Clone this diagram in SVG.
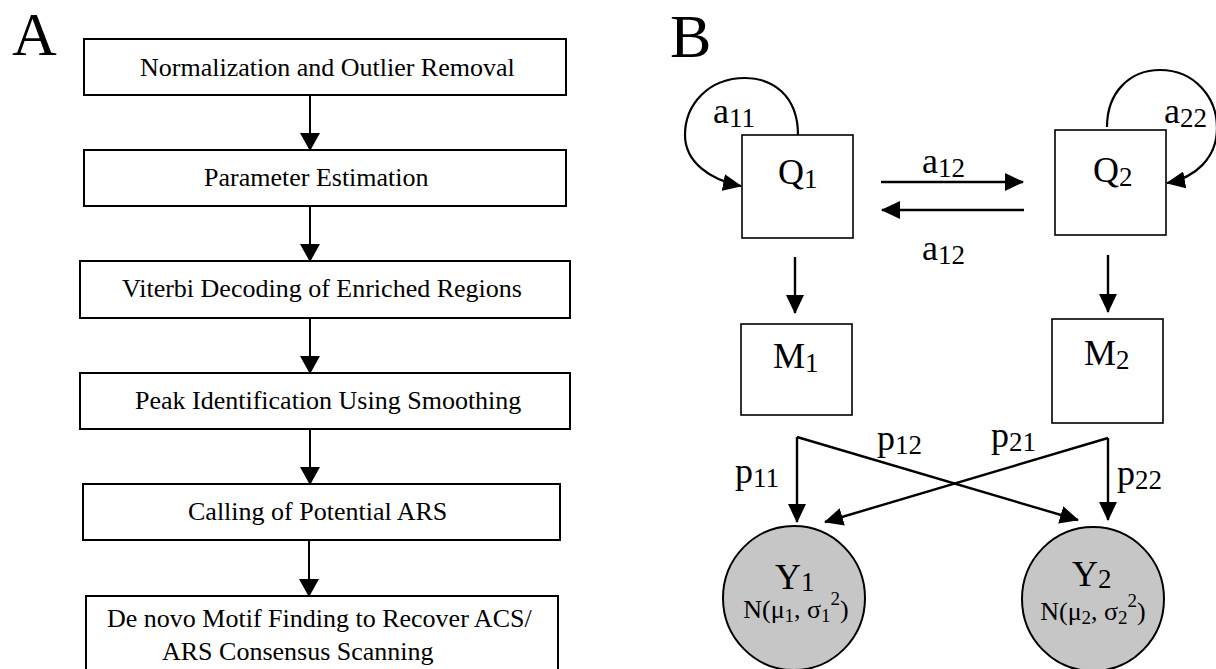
<svg xmlns="http://www.w3.org/2000/svg" width="1216" height="669" viewBox="0 0 1216 669">
<style>
text{font-family:"Liberation Serif","Times New Roman",serif;fill:#000}
.lbl{font-size:62px}
.box{fill:#fff;stroke:#000;stroke-width:2}
.bt{font-size:26px}
.sq{fill:#fff;stroke:#000;stroke-width:1.6}
.cir{fill:#c6c6c6;stroke:#000;stroke-width:2}
.m{font-size:36px}
.s{font-size:27px}
.yn{font-size:26px}
.ys{font-size:19px}
.ca{stroke:#000;stroke-width:2;fill:none;marker-end:url(#ahA)}
.cb{stroke:#000;stroke-width:2.4;fill:none;marker-end:url(#ahB)}
.cl{stroke:#000;stroke-width:2.2;fill:none;marker-end:url(#ahL)}
</style>
<defs>
<marker id="ahA" viewBox="0 0 18 20" refX="17" refY="10" markerWidth="18" markerHeight="20" orient="auto" markerUnits="userSpaceOnUse"><path d="M0,0 L18,10 L0,20 z" fill="#000"/></marker>
<marker id="ahB" viewBox="0 0 19 18" refX="18" refY="9" markerWidth="19" markerHeight="18" orient="auto" markerUnits="userSpaceOnUse"><path d="M0,0 L19,9 L0,18 z" fill="#000"/></marker>
<marker id="ahL" viewBox="0 0 19 17" refX="18" refY="8.5" markerWidth="19" markerHeight="17" orient="auto" markerUnits="userSpaceOnUse"><path d="M0,0 L19,8.5 L0,17 z" fill="#000"/></marker>
</defs>

<text class="lbl" x="12" y="55">A</text>
<text class="lbl" x="670" y="57">B</text>

<g id="a1"><rect class="box" x="84" y="39" width="482" height="56"/><text class="bt" x="140" y="76">Normalization and Outlier Removal</text></g>
<g id="a2"><rect class="box" x="84" y="150" width="482" height="56"/><text class="bt" x="204" y="186">Parameter Estimation</text></g>
<g id="a3"><rect class="box" x="80" y="261" width="490" height="57"/><text class="bt" x="122" y="297">Viterbi Decoding of Enriched Regions</text></g>
<g id="a4"><rect class="box" x="80" y="373" width="490" height="56"/><text class="bt" x="135" y="409">Peak Identification Using Smoothing</text></g>
<g id="a5"><rect class="box" x="83" y="484" width="477" height="56"/><text class="bt" x="188" y="520">Calling of Potential ARS</text></g>
<g id="a6"><rect class="box" x="86" y="596" width="472" height="84"/><text class="bt" x="107" y="627">De novo Motif Finding to Recover ACS/</text><text class="bt" x="162" y="660">ARS Consensus Scanning</text></g>

<g id="q1"><rect class="sq" x="742" y="135" width="111" height="103"/><text class="m" x="778" y="184">Q<tspan class="s" dy="4">1</tspan></text></g>
<g id="q2"><rect class="sq" x="1055" y="130" width="111" height="105"/><text class="m" x="1093" y="182">Q<tspan class="s" dy="4">2</tspan></text></g>
<g id="m1"><rect class="sq" x="741" y="324" width="111" height="91"/><text class="m" x="773" y="368">M<tspan class="s" dy="4">1</tspan></text></g>
<g id="m2"><rect class="sq" x="1052" y="319" width="111" height="104"/><text class="m" x="1084" y="365">M<tspan class="s" dy="4">2</tspan></text></g>
<g id="y1"><ellipse class="cir" cx="794" cy="598" rx="71" ry="72"/><text class="m" x="775" y="589">Y<tspan class="s" dy="2">1</tspan></text><text class="yn" x="796" y="618" text-anchor="middle">N(μ<tspan class="ys" dy="4">1</tspan><tspan dy="-4">, σ</tspan><tspan class="ys" dy="4">1</tspan><tspan class="ys" dy="-17">2</tspan><tspan dy="13">)</tspan></text></g>
<g id="y2"><ellipse class="cir" cx="1093" cy="599" rx="71" ry="72"/><text class="m" x="1072" y="586">Y<tspan class="s" dy="2">2</tspan></text><text class="yn" x="1093" y="620" text-anchor="middle">N(μ<tspan class="ys" dy="4">2</tspan><tspan dy="-4">, σ</tspan><tspan class="ys" dy="4">2</tspan><tspan class="ys" dy="-17">2</tspan><tspan dy="13">)</tspan></text></g>

<g id="connectors">
<path class="ca" d="M310 95 V150"/>
<path class="ca" d="M310 206 V261"/>
<path class="ca" d="M310 318 V373"/>
<path class="ca" d="M310 429 V484"/>
<path class="ca" d="M309 540 V596"/>
<path class="cl" d="M798 135 C798 95 772 78 745 78 C708 78 685 105 685 135 C685 162 710 180 741 186"/>
<path class="cl" d="M1107 127 C1107 92 1130 70 1160 70 C1195 70 1217 98 1217 128 C1217 158 1195 178 1167 183"/>
<path class="cb" d="M881 182 H1023"/>
<path class="cb" d="M1024 210 H882"/>
<path class="cb" d="M795 257 V313"/>
<path class="cb" d="M1108 255 V312"/>
<path class="cb" d="M797 437 V522"/>
<path class="cb" d="M797 437 L1078 520"/>
<path class="cb" d="M1108 438 V520"/>
<path class="cb" d="M1108 438 L825 522"/>
</g>
<g id="labels">
<text class="m" x="713" y="123">a<tspan class="s" dy="4">11</tspan></text>
<text class="m" x="1164" y="123">a<tspan class="s" dy="4">22</tspan></text>
<text class="m" x="922" y="173">a<tspan class="s" dy="4">12</tspan></text>
<text class="m" x="922" y="260">a<tspan class="s" dy="4">12</tspan></text>
<text class="m" x="735" y="483">p<tspan class="s" dy="4">11</tspan></text>
<text class="m" x="877" y="450">p<tspan class="s" dy="4">12</tspan></text>
<text class="m" x="991" y="447">p<tspan class="s" dy="4">21</tspan></text>
<text class="m" x="1117" y="485">p<tspan class="s" dy="4">22</tspan></text>
</g>
</svg>
